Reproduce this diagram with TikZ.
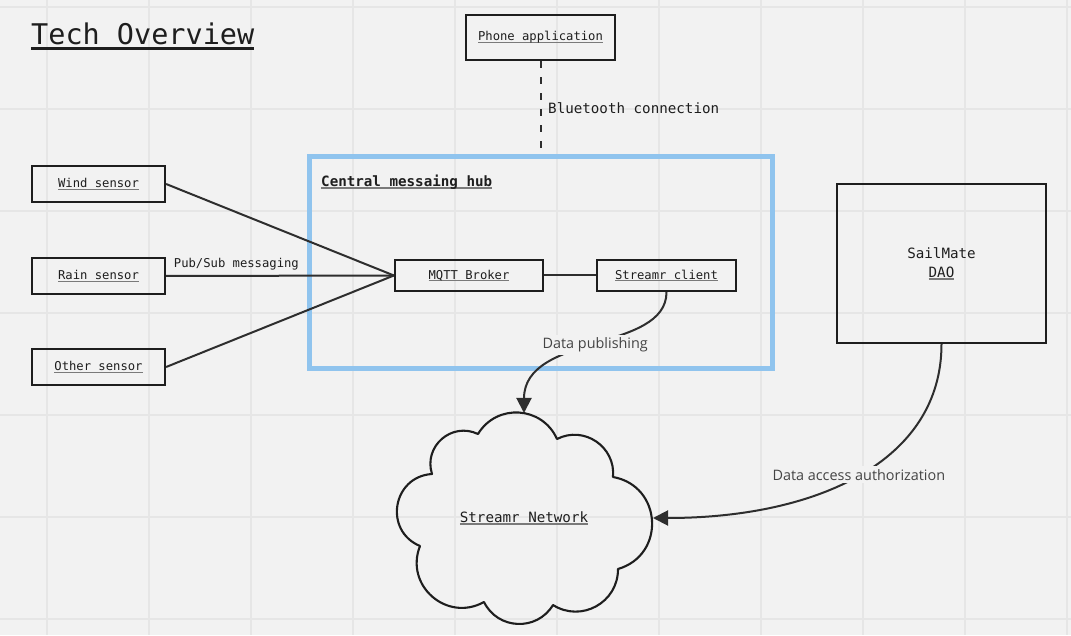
\documentclass[tikz,border=0pt]{standalone}
\usepackage{fontspec}
\usetikzlibrary{arrows.meta}
\newfontfamily\monof{DejaVu Sans Mono}
\newfontfamily\sansf{Open Sans}
\definecolor{bg}{HTML}{F2F2F2}
\definecolor{gridc}{HTML}{E6E6E6}
\definecolor{ink}{HTML}{1E1E1E}
\definecolor{linec}{HTML}{2E2E2E}
\definecolor{hubblue}{HTML}{90C4EE}
\definecolor{ulgray}{HTML}{7A7A7A}
\definecolor{lblc}{HTML}{444444}
\newsavebox{\myulbox}
\newcommand\myul[2][ulgray]{\sbox\myulbox{#2}\leavevmode\rlap{\color{#1}\rule[-0.16em]{\wd\myulbox}{0.09em}}\usebox\myulbox}
\newcommand\fsmall{\monof\fontsize{12.2}{14}\selectfont}
\newcommand\fmed{\monof\fontsize{14.2}{19}\selectfont}
\newcommand\ftitle{\monof\fontsize{28.5}{32}\selectfont}
\newcommand\flbl{\sansf\fontsize{14.4}{17}\selectfont}
\tikzset{
  boxnode/.style={draw=ink, line width=2.2pt, inner sep=0pt, text=ink},
  hubbox/.style={draw=hubblue, line width=5pt, inner sep=0pt},
  conn/.style={draw=linec, line width=2pt},
  arrowconn/.style={conn, -{Triangle[length=15pt,width=15pt]}},
  lbl/.style={text=ink, inner sep=0pt},
  onlbl/.style={fill=bg, text=lblc, inner sep=3pt, font=\flbl},
}
\begin{document}
\begin{tikzpicture}[x=1pt,y=1pt]
\useasboundingbox (0,0) rectangle (1071,635);
\fill[bg] (0,0) rectangle (1071,635);
% grid
\foreach \gx in {47,149,251,353,455,557,659,761,863,965,1067}
  \draw[gridc, line width=1.2pt] (\gx,0) -- (\gx,635);
\foreach \gy in {628,526,424,322,220,118,16}
  \draw[gridc, line width=1.2pt] (0,\gy) -- (1071,\gy);

% title
\node[lbl, anchor=base west] (title) at (31,590) {\ftitle\myul[ink]{Tech Overview}};

% hub
\node[hubbox, minimum width=463, minimum height=212] (hub) at (540.5,372) {};
\node[lbl, anchor=west] (hublbl) at (321,453) {\fmed\bfseries\myul{Central messaing hub}};

% phone
\node[boxnode, minimum width=149, minimum height=45] (phone) at (540.5,597.5) {\fsmall\myul{Phone application}};
\node[lbl, anchor=west] (bt) at (548,527) {\fmed Bluetooth connection};

% sensors
\node[boxnode, minimum width=133, minimum height=36] (wind) at (98.5,451) {\fsmall\myul{Wind sensor}};
\node[boxnode, minimum width=133, minimum height=36] (rain) at (98.5,359) {\fsmall\myul{Rain sensor}};
\node[boxnode, minimum width=133, minimum height=36] (other) at (98.5,268) {\fsmall\myul{Other sensor}};

% broker & client
\node[boxnode, minimum width=148, minimum height=31] (mqtt) at (469,359.5) {\fsmall\myul{MQTT Broker}};
\node[boxnode, minimum width=139, minimum height=31] (client) at (666.5,359.5) {\fsmall\myul{Streamr client}};

% DAO
\node[boxnode, minimum width=209, minimum height=159, align=center, font=\fmed] (dao) at (941.5,371.5) {SailMate\\\myul{DAO}};

% cloud
\draw[draw=ink, line width=2.1pt, line join=round]
  (478,201) .. controls (496.7,231.9) and (542.3,229) .. (557,196)
  .. controls (584.1,209.8) and (615.8,188.2) .. (613,158)
  .. controls (662.3,149.2) and (666.1,80.1) .. (618,66)
  .. controls (618.2,32.5) and (581.3,12.1) .. (553,30)
  .. controls (536.9,3.4) and (497.7,5.1) .. (484,33)
  .. controls (446.9,12.3) and (404.3,49.5) .. (420,89)
  .. controls (383.4,104.2) and (392.4,158.5) .. (432,161)
  .. controls (423.2,188.7) and (451.7,213.5) .. (478,201) -- cycle;
\node[lbl] (net) at (524,117) {\fmed\myul{Streamr Network}};
\coordinate (cloudtop) at (524,222);
\coordinate (cloudright) at (653,117);

% connectors
\draw[conn, dash pattern=on 7pt off 9pt] (phone.south) -- (phone.south |- hub.north);
\draw[conn] (wind.east) -- (mqtt.west);
\draw[conn] (rain.east) -- node[lbl, pos=0.03, anchor=south west, yshift=5pt] (pubsub) {\fsmall Pub/Sub messaging} (mqtt.west);
\draw[conn] (other.east) -- (mqtt.west);
\draw[conn] (mqtt.east) -- (client.west);
\draw[arrowconn] (client.south) to[out=-90, in=90, out looseness=0.82, in looseness=1.09]
  node[onlbl, pos=0.5] (publ) {Data publishing} (cloudtop);
\draw[arrowconn] (dao.south) to[out=-90, in=0, out looseness=0.89, in looseness=1.25]
  node[onlbl, pos=0.5] (auth) {Data access authorization} (cloudright);
\end{tikzpicture}
\end{document}
